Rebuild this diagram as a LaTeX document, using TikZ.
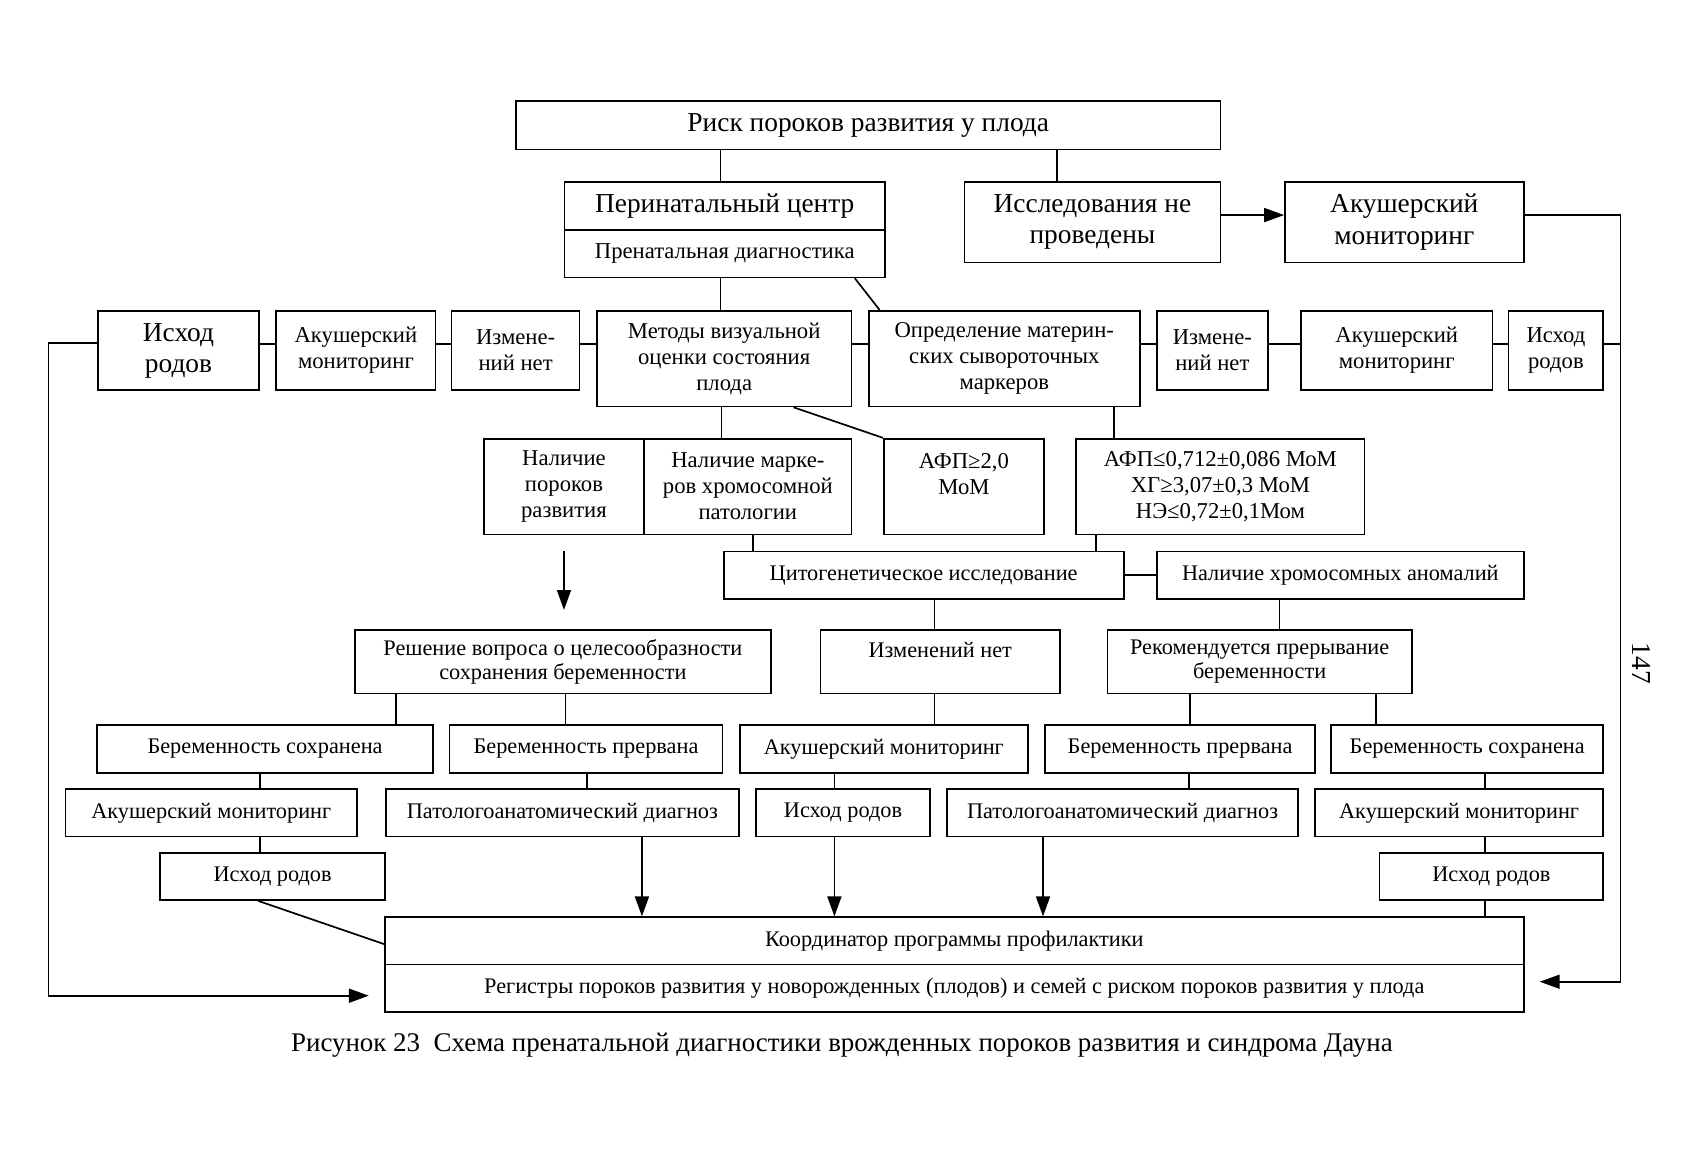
\documentclass[tikz,border=0pt]{standalone}
\usepackage{fontspec}
\setmainfont{Liberation Serif}
\usetikzlibrary{arrows.meta}

\begin{document}
\begin{tikzpicture}[
    x=0.02cm, y=-0.02cm,
    box/.style 2 args={draw, line width=0.9pt, minimum width=#1*0.02cm,
        minimum height=#2*0.02cm, inner sep=0pt, align=center},
    conn/.style={line width=0.9pt},
    arr/.style={line width=0.9pt, -{Triangle[length=3.7mm, width=2.6mm]}},
    big/.style={font=\fontsize{14.5}{16.5}\selectfont},
    mid/.style={font=\fontsize{12}{13.7}\selectfont},
    small/.style={font=\fontsize{11.8}{12.8}\selectfont}
]
\useasboundingbox (0,0) rectangle (1568,1079);

% --- Top ---
\node[box={655}{45}, big] (risk) at (807.5,116.5) {Риск пороков развития у плода};
\node[box={298}{45}, big] (peri) at (674,191.5) {Перинатальный центр};
\node[box={298}{44}, mid] (prenat) at (674,236) {Пренатальная диагностика};
\node[box={238}{75}, big] (notdone) at (1016,206.5) {Исследования не\\проведены};
\node[box={222}{75}, big] (akm0) at (1306,206.5) {Акушерский\\мониторинг};

% --- Methods row ---
\node[box={150}{74}, big] (ish1) at (166,326) {Исход\\родов};
\node[box={148}{74}, mid] (akm1) at (331,326) {Акушерский\\мониторинг};
\node[box={119}{74}, mid] (noch1) at (479.5,326) {Измене-\\ний нет};
\node[box={237}{89}, mid] (visual) at (673.5,333.5) {Методы визуальной\\оценки состояния\\плода};
\node[box={252}{89}, mid] (serum) at (934,333.5) {Определение материн-\\ских сывороточных\\маркеров};
\node[box={103}{74}, mid] (noch2) at (1127.5,326) {Измене-\\ний нет};
\node[box={178}{74}, mid] (akm2) at (1299,326) {Акушерский\\мониторинг};
\node[box={88}{74}, mid] (ish2) at (1447,326) {Исход\\родов};

% --- Findings ---
\node[box={149}{89}, mid] (malf) at (524.5,452.5) {Наличие\\пороков\\развития};
\node[box={193}{89}, mid] (mark) at (695.5,452.5) {Наличие марке-\\ров хромосомной\\патологии};
\node[box={149}{89}, mid] (afp) at (896.5,452.5) {АФП≥2,0\\МоМ\\\mbox{}};
\node[box={268}{89}, mid] (triple) at (1135,452.5) {АФП≤0,712±0,086 МоМ\\ХГ≥3,07±0,3 МоМ\\НЭ≤0,72±0,1Мом};

\node[box={372}{44}, small] (cyto) at (859,535) {Цитогенетическое исследование};
\node[box={341}{44}, small] (anom) at (1246.5,535) {Наличие хромосомных аномалий};

% --- Decisions ---
\node[box={387}{59}, small] (decide) at (523.5,615.5) {Решение вопроса о целесообразности\\сохранения беременности};
\node[box={223}{59}, small] (noch3) at (874.5,615.5) {Изменений нет\\\mbox{}};
\node[box={283}{59}, small] (recom) at (1171.5,615.5) {Рекомендуется прерывание\\беременности};

\node[box={313}{45}, small] (kept1) at (246.5,696.5) {Беременность сохранена};
\node[box={254}{45}, small] (term1) at (545,696.5) {Беременность прервана};
\node[box={268}{45}, small] (akm3) at (822,696.5) {Акушерский мониторинг};
\node[box={251}{45}, small] (term2) at (1097.5,696.5) {Беременность прервана};
\node[box={253}{45}, small] (kept2) at (1364.5,696.5) {Беременность сохранена};

\node[box={271}{44}, small] (akm4) at (196.5,756) {Акушерский мониторинг};
\node[box={328}{44}, small] (path1) at (523,756) {Патологоанатомический диагноз};
\node[box={162}{44}, small] (ish3) at (784,756) {Исход родов};
\node[box={326}{44}, small] (path2) at (1044,756) {Патологоанатомический диагноз};
\node[box={268}{44}, small] (akm5) at (1357,756) {Акушерский мониторинг};

\node[box={209}{44}, small] (ish4) at (253.5,815) {Исход родов};
\node[box={208}{44}, small] (ish5) at (1387,815) {Исход родов};

% --- Coordinator ---
\node[box={1059}{44}, small] (coord) at (887.5,875) {Координатор программы профилактики};
\node[box={1059}{44}, small] (reg) at (887.5,919) {Регистры пороков развития у новорожденных (плодов) и семей с риском пороков развития у плода};

\node[font=\fontsize{14.25}{16}\selectfont] (cap) at (783,972) {Рисунок 23\ \ Схема пренатальной диагностики врожденных пороков развития и синдрома Дауна};
\node[big, rotate=-90] (page) at (1527,617) {147};

% --- Vertical connectors ---
\foreach \xx/\a/\b in {670/risk/peri, 983/risk/notdone, 670/prenat/visual, 671/visual/mark,
    1036/serum/triple, 700/mark/cyto, 1019/triple/cyto, 869/cyto/noch3, 1190/anom/recom,
    368/decide/kept1, 526/decide/term1, 869/noch3/akm3, 1107/recom/term2, 1280/recom/kept2,
    242/kept1/akm4, 546/term1/path1, 776/akm3/ish3, 1106/term2/path2, 1381/kept2/akm5,
    242/akm4/ish4, 1381/akm5/ish5, 1381/ish5/coord}
    \draw[conn] (\xx,0 |- \a.south) -- (\xx,0 |- \b.north);

\foreach \xx/\a in {597/path1, 776/ish3, 970/path2}
    \draw[arr] (\xx,0 |- \a.south) -- (\xx,0 |- coord.north);

% --- Horizontal links in methods row ---
\foreach \a/\b in {ish1/akm1, akm1/noch1, noch1/visual, visual/serum, serum/noch2, noch2/akm2, akm2/ish2}
    \draw[conn] (\a.east |- 0,320) -- (\b.west |- 0,320);
\draw[conn] (cyto.east) -- (anom.west);

% --- Oblique links ---
\draw[conn] (795,0 |- prenat.south) -- (818,0 |- serum.north);
\draw[conn] (738,0 |- visual.south) -- (afp.north west);
\draw[conn] (240,0 |- ish4.south) -- (coord.west |- 0,878);

% --- Arrows ---
\draw[arr] (notdone.east |- 0,200) -- (akm0.west |- 0,200);
\draw[arr] ([yshift=-0.3cm]malf.south) -- ([yshift=0.36cm]decide.north -| malf.south);
\coordinate (regleft) at (343,926);
\coordinate (regright) at (1432,913);
\draw[arr] (ish1.west |- 0,319) -- (45,319) |- (regleft);
\draw[arr] (akm0.east |- 0,200) -- (1507,200) |- (regright);
\draw[conn] (ish2.east |- 0,320) -- (1507,320);

\end{tikzpicture}
\end{document}
